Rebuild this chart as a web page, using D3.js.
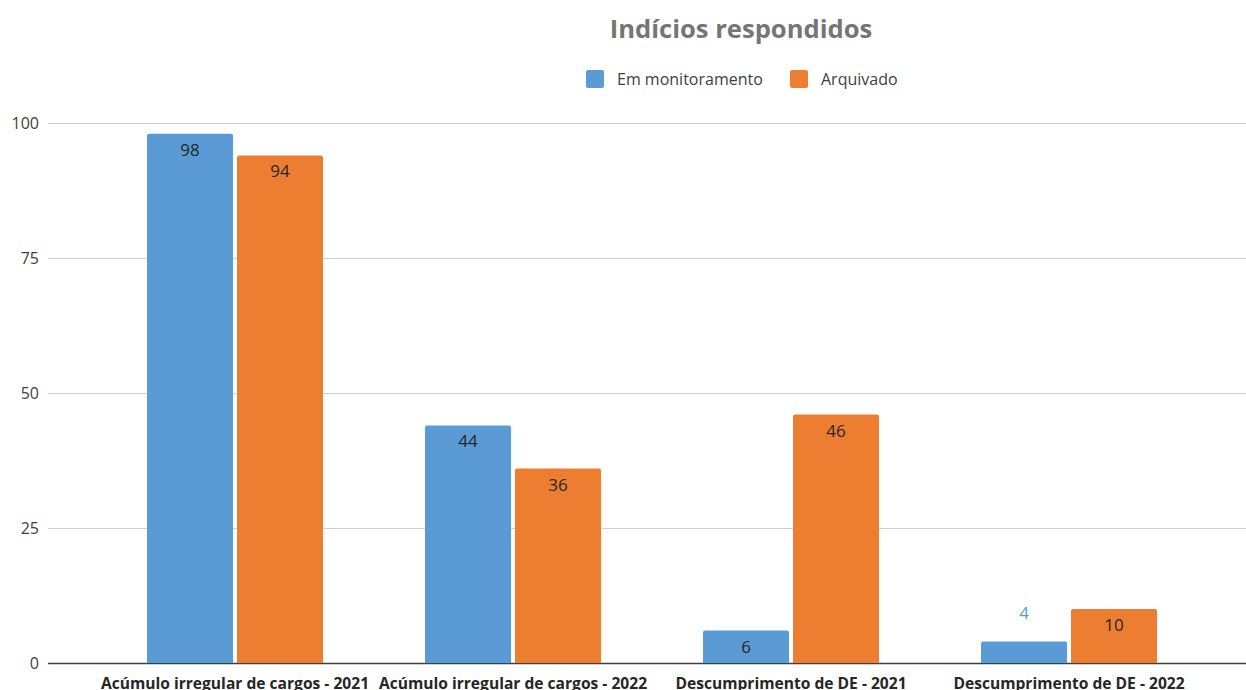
<!DOCTYPE html>
<html>
<head>
<meta charset="utf-8">
<script src="https://cdn.jsdelivr.net/npm/d3@7"></script>
<style>
  body { margin: 0; background: #fff; }
  svg { font-family: "Open Sans", sans-serif; }
</style>
</head>
<body>
<svg id="chart" width="1246" height="690"></svg>
<script>
const categories = ['Acúmulo irregular de cargos - 2021', 'Acúmulo irregular de cargos - 2022',
  'Descumprimento de DE - 2021', 'Descumprimento de DE - 2022'];
const seriesNames = ['Em monitoramento', 'Arquivado'];
const monitoramento = [98, 44, 6, 4];
const arquivado = [94, 36, 46, 10];
const yTicks = [0, 25, 50, 75, 100];
const colors = ['#5b9bd5', '#ed7d31'];

const svg = d3.select('#chart');

const y = d3.scaleLinear().domain([0, 100]).range([663, 123]);
const x0 = d3.scaleBand().domain(categories).range([147, 1157]).paddingInner(0.367);
const x1 = d3.scaleBand().domain(seriesNames).range([0, x0.bandwidth()]).paddingInner(0.0444);

// gridlines
svg.append('g').selectAll('line').data(yTicks).enter().append('line')
  .attr('x1', 48).attr('x2', 1246)
  .attr('y1', d => y(d) + 0.5).attr('y2', d => y(d) + 0.5)
  .attr('stroke', d => d === 0 ? '#404040' : '#d0d0d0')
  .attr('stroke-width', d => d === 0 ? 1.5 : 1.2);

// y tick labels
svg.append('g').selectAll('text').data(yTicks).enter().append('text')
  .attr('x', 39).attr('y', d => y(d))
  .attr('dy', '0.35em')
  .attr('text-anchor', 'end')
  .attr('font-size', 16)
  .attr('fill', '#404040')
  .text(d => d);

const data = categories.map((c, i) => ({ cat: c, vals: [monitoramento[i], arquivado[i]] }));

const groups = svg.append('g').selectAll('g').data(data).enter().append('g')
  .attr('transform', d => 'translate(' + x0(d.cat) + ',0)');

groups.selectAll('path').data(d => d.vals.map((v, j) => ({ v: v, s: seriesNames[j], j: j })))
  .enter().append('path')
  .attr('fill', d => colors[d.j])
  .attr('d', d => {
    const x = x1(d.s), w = x1.bandwidth(), top = y(d.v), bot = y(0), r = 2;
    return 'M' + x + ',' + bot + 'V' + (top + r) + 'Q' + x + ',' + top + ' ' + (x + r) + ',' + top +
      'H' + (x + w - r) + 'Q' + (x + w) + ',' + top + ' ' + (x + w) + ',' + (top + r) + 'V' + bot + 'Z';
  });

groups.selectAll('text').data(d => d.vals.map((v, j) => ({ v: v, s: seriesNames[j], j: j })))
  .enter().append('text')
  .attr('x', d => x1(d.s) + x1.bandwidth() / 2)
  .attr('y', d => (y(0) - y(d.v)) < 24 ? y(d.v) - 28 : y(d.v) + 16)
  .attr('dy', '0.35em')
  .attr('text-anchor', 'middle')
  .attr('font-size', 17)
  .attr('fill', d => (y(0) - y(d.v)) < 24 ? colors[d.j] : '#262626')
  .text(d => d.v);

// category labels
svg.append('g').selectAll('text').data(categories).enter().append('text')
  .attr('x', d => x0(d) + x0.bandwidth() / 2)
  .attr('y', 684)
  .attr('dy', '0.35em')
  .attr('text-anchor', 'middle')
  .attr('font-size', 15.6)
  .attr('font-weight', 'bold')
  .attr('fill', '#262626')
  .text(d => d);

// title
svg.append('text')
  .attr('x', 741).attr('y', 29).attr('dy', '0.35em')
  .attr('text-anchor', 'middle')
  .attr('font-size', 25.6).attr('font-weight', 'bold')
  .attr('fill', '#757575')
  .text('Indícios respondidos');

// legend
const legendX = [586, 790];
const legend = svg.append('g').selectAll('g').data(seriesNames).enter().append('g')
  .attr('transform', (d, i) => 'translate(' + legendX[i] + ',70)');
legend.append('rect').attr('width', 18).attr('height', 18).attr('rx', 2)
  .attr('fill', (d, i) => colors[i]);
legend.append('text').attr('x', 31).attr('y', 9).attr('dy', '0.35em')
  .attr('font-size', 16).attr('fill', '#404040')
  .text(d => d);
</script>
</body>
</html>
